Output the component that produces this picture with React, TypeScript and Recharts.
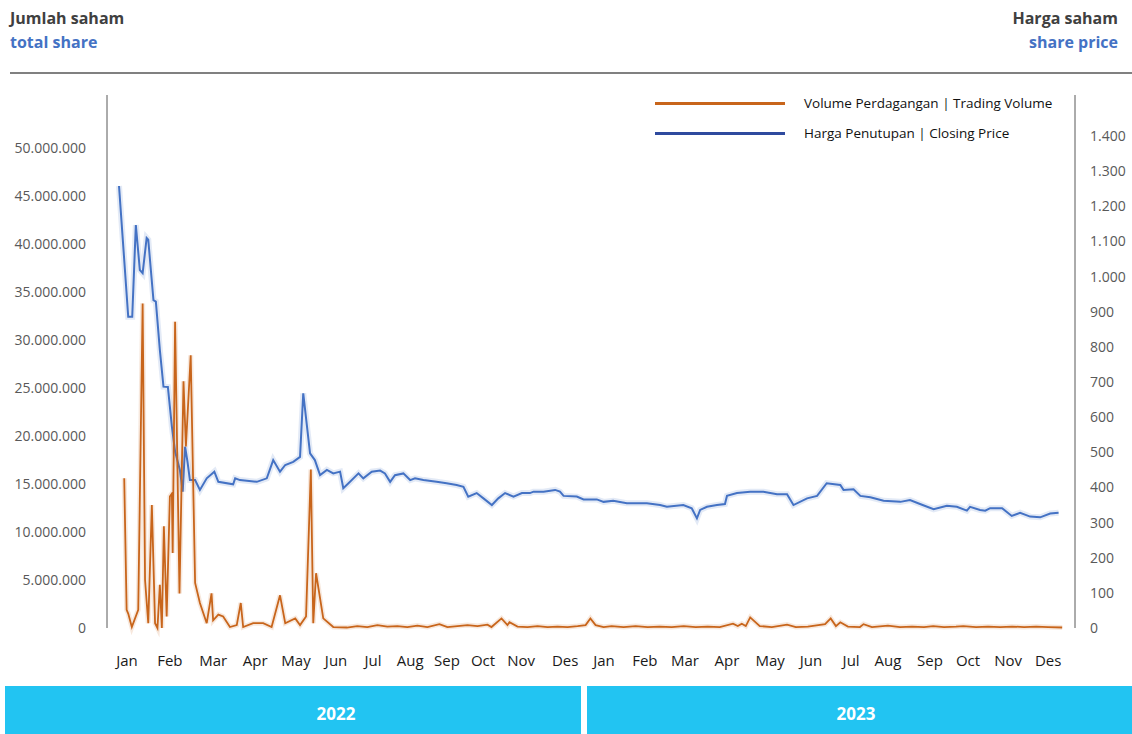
import React from 'react'
import { LineChart, Line, XAxis, YAxis } from 'recharts'

// x positions are in months from 1 Jan 2022 (0) to end of Des 2023 (24)
const months = ['Jan', 'Feb', 'Mar', 'Apr', 'May', 'Jun', 'Jul', 'Aug', 'Sep', 'Oct', 'Nov', 'Des']
const years = ['2022', '2023']

const volumeT = [
  0.43, 0.49, 0.53, 0.62, 0.78, 0.89, 0.95, 1.03, 1.12, 1.2, 1.26, 1.32, 1.37, 1.42, 1.49, 1.57, 1.62, 1.64,
  1.7, 1.81, 1.91, 1.97, 2.09, 2.2, 2.32, 2.49, 2.61, 2.65, 2.78, 2.9, 3.07, 3.24, 3.34, 3.4, 3.65, 3.9, 4.11,
  4.32, 4.45, 4.7, 4.82, 4.97, 5.09, 5.15, 5.22, 5.4, 5.65, 5.99, 6.25, 6.5, 6.75, 7.0, 7.25, 7.5, 7.75, 8.0,
  8.3, 8.5, 8.75, 9.0, 9.25, 9.5, 9.6, 9.85, 10.0, 10.05, 10.25, 10.5, 10.75, 11.0, 11.25, 11.5, 11.75, 11.95,
  12.07, 12.2, 12.4, 12.6, 12.9, 13.2, 13.5, 13.8, 14.1, 14.4, 14.7, 15.0, 15.3, 15.63, 15.75, 15.85, 15.95,
  16.06, 16.3, 16.6, 16.98, 17.2, 17.5, 17.93, 18.07, 18.2, 18.31, 18.5, 18.8, 18.89, 19.1, 19.5, 19.8, 20.1,
  20.4, 20.63, 20.9, 21.2, 21.38, 21.7, 22.0, 22.3, 22.6, 22.9, 23.2, 23.5, 23.85,
]
const volumeShares = [
  15_600_000, 1_900_000, 1_500_000, 100_000, 1_900_000, 33_800_000, 5_000_000, 500_000, 12_800_000, 500_000, 0,
  4_500_000, 0, 10_600_000, 1_200_000, 13_700_000, 14_000_000, 7_800_000, 31_900_000, 3_600_000, 25_700_000,
  18_900_000, 28_400_000, 4_700_000, 2_600_000, 500_000, 3_600_000, 800_000, 1_400_000, 1_200_000, 100_000,
  300_000, 2_600_000, 100_000, 500_000, 500_000, 100_000, 3_400_000, 500_000, 1_000_000, 300_000, 1_200_000,
  16_500_000, 500_000, 5_700_000, 1_000_000, 100_000, 50_000, 200_000, 100_000, 300_000, 150_000, 200_000,
  100_000, 250_000, 100_000, 400_000, 100_000, 200_000, 300_000, 200_000, 350_000, 100_000, 1_000_000, 300_000,
  600_000, 150_000, 100_000, 200_000, 100_000, 150_000, 100_000, 200_000, 300_000, 1_000_000, 300_000, 100_000,
  200_000, 100_000, 200_000, 100_000, 150_000, 100_000, 200_000, 100_000, 150_000, 100_000, 450_000, 200_000,
  450_000, 200_000, 1_100_000, 200_000, 100_000, 350_000, 100_000, 150_000, 400_000, 1_000_000, 200_000, 600_000,
  150_000, 100_000, 400_000, 100_000, 250_000, 100_000, 150_000, 100_000, 200_000, 100_000, 150_000, 200_000,
  100_000, 150_000, 100_000, 150_000, 100_000, 150_000, 100_000, 50_000,
]

const priceT = [
  0.3, 0.53, 0.63, 0.72, 0.82, 0.89, 0.99, 1.03, 1.16, 1.22, 1.32, 1.41, 1.52, 1.62, 1.7, 1.82, 1.89, 1.95, 2.01,
  2.07, 2.2, 2.32, 2.49, 2.68, 2.78, 3.15, 3.2, 3.32, 3.74, 3.99, 4.15, 4.32, 4.45, 4.65, 4.82, 4.9, 5.07, 5.19,
  5.32, 5.49, 5.65, 5.82, 5.9, 6.03, 6.28, 6.4, 6.61, 6.82, 6.94, 7.07, 7.19, 7.4, 7.57, 7.69, 7.9, 8.23, 8.48,
  8.73, 8.9, 9.02, 9.23, 9.4, 9.61, 9.77, 9.94, 10.15, 10.36, 10.56, 10.65, 10.9, 11.19, 11.31, 11.4, 11.73,
  11.9, 12.23, 12.4, 12.64, 12.98, 13.48, 13.81, 13.98, 14.39, 14.6, 14.73, 14.81, 14.98, 15.23, 15.43, 15.48,
  15.73, 16.06, 16.39, 16.73, 16.98, 17.14, 17.48, 17.73, 17.97, 18.31, 18.39, 18.64, 18.81, 19.06, 19.39,
  19.81, 20.05, 20.3, 20.64, 20.97, 21.22, 21.47, 21.55, 21.8, 21.93, 22.05, 22.35, 22.59, 22.8, 23.05, 23.3,
  23.55, 23.76,
]
const closingPrice = [
  1258, 886, 886, 1147, 1019, 1010, 1110, 1105, 933, 929, 791, 687, 686, 573, 502, 450, 388, 516, 473, 421, 421,
  393, 426, 445, 416, 409, 426, 421, 416, 426, 478, 445, 464, 473, 487, 668, 497, 478, 435, 450, 440, 445, 398,
  412, 440, 426, 445, 448, 440, 416, 435, 440, 421, 426, 421, 416, 412, 407, 402, 374, 384, 369, 350, 369, 384,
  374, 384, 384, 388, 388, 393, 388, 376, 374, 366, 366, 359, 362, 355, 355, 350, 345, 350, 341, 312, 336, 345,
  350, 353, 376, 384, 388, 388, 381, 381, 350, 369, 376, 412, 407, 393, 395, 376, 372, 362, 359, 364, 353, 338,
  348, 345, 334, 345, 336, 334, 341, 341, 319, 328, 317, 315, 326, 328,
]

const leftTicks = [0, 5e6, 10e6, 15e6, 20e6, 25e6, 30e6, 35e6, 40e6, 45e6, 50e6]
const rightTicks = [0, 100, 200, 300, 400, 500, 600, 700, 800, 900, 1000, 1100, 1200, 1300, 1400]
// where the month labels sit along the axis (as in the original, not perfectly even)
const monthTicks = [
  0.5, 1.57, 2.65, 3.7, 4.72, 5.72, 6.64, 7.57, 8.49, 9.39, 10.34, 11.44,
  12.41, 13.43, 14.43, 15.48, 16.56, 17.58, 18.58, 19.5, 20.55, 21.5, 22.5, 23.5,
]

const volumeData = volumeT.map((t, i) => ({ t, v: volumeShares[i] }))
const priceData = priceT.map((t, i) => ({ t, v: closingPrice[i] }))

const fmt = (n: number) => String(Math.round(n)).replace(/\B(?=(\d{3})+(?!\d))/g, '.')

const FONT = '"Open Sans", sans-serif'
const ORANGE = '#C8651B'
const BLUE = '#4472C4'

export default function App() {
  return (
    <div style={{ position: 'absolute', left: 0, top: 0, width: 1132, height: 734, background: '#fff', fontFamily: FONT }}>
      <div style={{ position: 'absolute', left: 10, top: 6, fontSize: 16, fontWeight: 700, lineHeight: '24px' }}>
        <div style={{ color: '#404040' }}>Jumlah saham</div>
        <div style={{ color: BLUE }}>total share</div>
      </div>
      <div style={{ position: 'absolute', right: 14, top: 6, fontSize: 16, fontWeight: 700, lineHeight: '24px', textAlign: 'right' }}>
        <div style={{ color: '#404040' }}>Harga saham</div>
        <div style={{ color: BLUE }}>share price</div>
      </div>
      <div style={{ position: 'absolute', left: 10, right: 0, top: 72, height: 1.5, background: '#808080' }} />

      <LineChart width={1132} height={734} data={priceData} margin={{ top: 95, right: 0, left: 0, bottom: 66 }}
        style={{ position: 'absolute', left: 0, top: 0 }}>
        <XAxis type="number" dataKey="t" domain={[0, 24.17]} ticks={monthTicks} interval={0}
          tickFormatter={(v: number, i: number) => months[i % 12]} axisLine={false} tickLine={false}
          tickSize={0} tickMargin={27} height={40} tick={{ fill: '#1a1a1a', fontSize: 15, fontFamily: FONT }} />
        <YAxis yAxisId="left" orientation="left" width={107} domain={[0, 55.5e6]} ticks={leftTicks} interval={0}
          tickFormatter={fmt} tickLine={false} tickSize={0} tickMargin={21} axisLine={{ stroke: '#595959' }}
          tick={{ fill: '#595959', fontSize: 14, fontFamily: FONT }} />
        <YAxis yAxisId="right" orientation="right" width={57} domain={[0, 1517]} ticks={rightTicks} interval={0}
          tickFormatter={fmt} tickLine={false} tickSize={0} tickMargin={15} axisLine={{ stroke: '#595959' }}
          tick={{ fill: '#595959', fontSize: 14, fontFamily: FONT, textAnchor: 'start' }} />
        <Line yAxisId="right" data={priceData} dataKey="v" type="linear" stroke={BLUE} strokeOpacity={0.15}
          strokeWidth={6} dot={false} isAnimationActive={false} legendType="none" />
        <Line yAxisId="right" data={priceData} dataKey="v" type="linear" stroke={BLUE} strokeWidth={2}
          dot={false} isAnimationActive={false} />
        <Line yAxisId="left" data={volumeData} dataKey="v" type="linear" stroke={ORANGE} strokeOpacity={0.15}
          strokeWidth={5} dot={false} isAnimationActive={false} legendType="none" />
        <Line yAxisId="left" data={volumeData} dataKey="v" type="linear" stroke={ORANGE} strokeWidth={1.8}
          dot={false} isAnimationActive={false} />
      </LineChart>

      <div style={{ position: 'absolute', left: 655, top: 93, fontSize: 13.5, color: '#111', lineHeight: '20px' }}>
        {[
          { label: 'Volume Perdagangan | Trading Volume', color: ORANGE },
          { label: 'Harga Penutupan | Closing Price', color: '#2E4A9E' },
        ].map((it) => (
          <div key={it.label} style={{ display: 'flex', alignItems: 'center', height: 30 }}>
            <div style={{ width: 130, height: 3, background: it.color, marginRight: 19, marginTop: -10 }} />
            <span style={{ marginTop: -10 }}>{it.label}</span>
          </div>
        ))}
      </div>

      {years.map((y, i) => (
        <div key={y} style={{
          position: 'absolute', top: 686, height: 48, left: i === 0 ? 5 : 587, width: i === 0 ? 576 : 545,
          background: '#22C4F2', color: '#fff', fontWeight: 700, fontSize: 17, display: 'flex',
          alignItems: 'center', justifyContent: 'center', boxSizing: 'border-box', paddingTop: 6,
          paddingLeft: i === 0 ? 86 : 0, paddingRight: i === 0 ? 0 : 7,
        }}>{y}</div>
      ))}
    </div>
  )
}
